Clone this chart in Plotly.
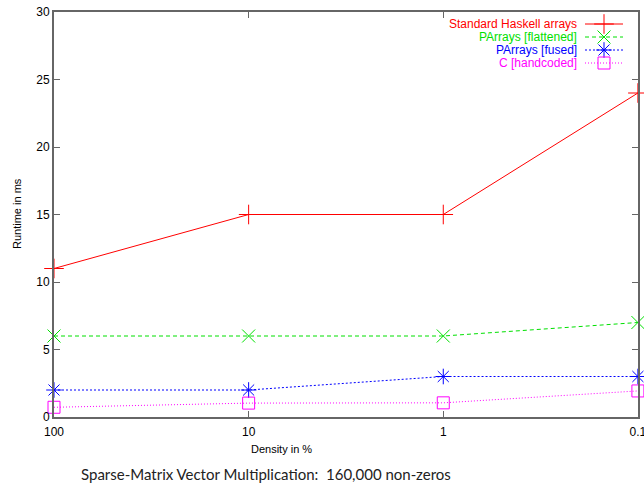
import plotly.graph_objects as go

density = [100, 10, 1, 0.1]
tick_labels = ["100", "10", "1", "0.1"]
haskell = [11, 15, 15, 24]
flattened = [6, 6, 6, 7]
fused = [2, 2, 3, 3]
handcoded = [0.72, 1.03, 1.05, 1.93]

series = [
    ("Standard Haskell arrays", haskell, "#ff0000", "solid", "cross-thin", 14),
    ("PArrays [flattened]", flattened, "#00e000", "4px,3px", "x-thin", 13),
    ("PArrays [fused]", fused, "#0000ff", "2px,2px", "asterisk", 13),
    ("C [handcoded]", handcoded, "#ff00ff", "1px,2px", "square-open", 12),
]

# plot area in pixels
L, R, T, B = 54, 638, 12, 417
def px(x):
    return (x - L) / (R - L)
def py(y):
    return (B - y) / (B - T)

fig = go.Figure()
for name, vals, col, dash, sym, size in series:
    fig.add_trace(go.Scatter(
        x=density, y=vals, mode="lines+markers", name=name,
        line=dict(color=col, width=1, dash=dash),
        marker=dict(symbol=sym, size=size, color=col, line=dict(color=col, width=1)),
        cliponaxis=False, showlegend=False,
    ))

# custom gnuplot-style legend (text right, sample left) on a pixel overlay axis
rows = [24, 37, 50, 63]
for (name, vals, col, dash, sym, size), ry in zip(series, rows):
    fig.add_trace(go.Scatter(
        x=[585, 604, 623], y=[ry, ry, ry], xaxis="x2", yaxis="y2",
        mode="lines", line=dict(color=col, width=1, dash=dash),
        showlegend=False, hoverinfo="skip", cliponaxis=False,
    ))
    fig.add_trace(go.Scatter(
        x=[604], y=[ry], xaxis="x2", yaxis="y2", mode="markers",
        marker=dict(symbol=sym, size=size, color=col, line=dict(color=col, width=1)),
        showlegend=False, hoverinfo="skip", cliponaxis=False,
    ))
    fig.add_annotation(x=px(579), y=py(ry), xref="paper", yref="paper", text=name,
                       showarrow=False, xanchor="right", yanchor="middle",
                       font=dict(family="Liberation Sans", size=12, color=col))

axcol = "#666666"
fig.update_layout(
    template="none",
    width=644, height=484,
    margin=dict(l=L, r=644 - R, t=T, b=484 - B, pad=0),
    paper_bgcolor="white", plot_bgcolor="white",
    font=dict(family="Liberation Sans", size=12, color="black"),
    xaxis=dict(type="log", range=[2, -1.0005], tickvals=density, ticktext=tick_labels,
               ticks="inside", ticklen=6, tickcolor=axcol, showgrid=False,
               showline=True, linecolor=axcol, linewidth=2, mirror="ticks",
               zeroline=False, automargin=False, tickfont=dict(size=12),
               ticklabelstandoff=3, ticklabeloverflow="allow"),
    yaxis=dict(range=[0, 30], tickvals=[0, 5, 10, 15, 20, 25, 30],
               ticks="inside", ticklen=6, tickcolor=axcol, showgrid=False,
               showline=True, linecolor=axcol, linewidth=2, mirror="ticks",
               zeroline=False, automargin=False, tickfont=dict(size=12),
               ticklabeloverflow="allow"),
    xaxis2=dict(range=[L, R], overlaying="x", visible=False, fixedrange=True, automargin=False),
    yaxis2=dict(range=[B, T], overlaying="y", visible=False, fixedrange=True, automargin=False),
    showlegend=False,
)

fig.add_annotation(x=px(281), y=py(449), xref="paper", yref="paper", text="Density in %",
                   showarrow=False, xanchor="center", yanchor="middle",
                   font=dict(family="Liberation Sans", size=11, color="black"))
fig.add_annotation(x=px(17), y=py(214), xref="paper", yref="paper", text="Runtime in ms",
                   showarrow=False, textangle=-90, xanchor="center", yanchor="middle",
                   font=dict(family="Liberation Sans", size=11, color="black"))
fig.add_annotation(x=px(266), y=py(474), xref="paper", yref="paper",
                   text="Sparse-Matrix Vector Multiplication:  160,000 non-zeros",
                   showarrow=False, xanchor="center", yanchor="middle",
                   font=dict(family="Lato", size=15, color="#222222"))

fig.write_html("out.html", config={"displayModeBar": False},
               post_script="document.body.style.margin='0';document.body.style.overflow='hidden';")
